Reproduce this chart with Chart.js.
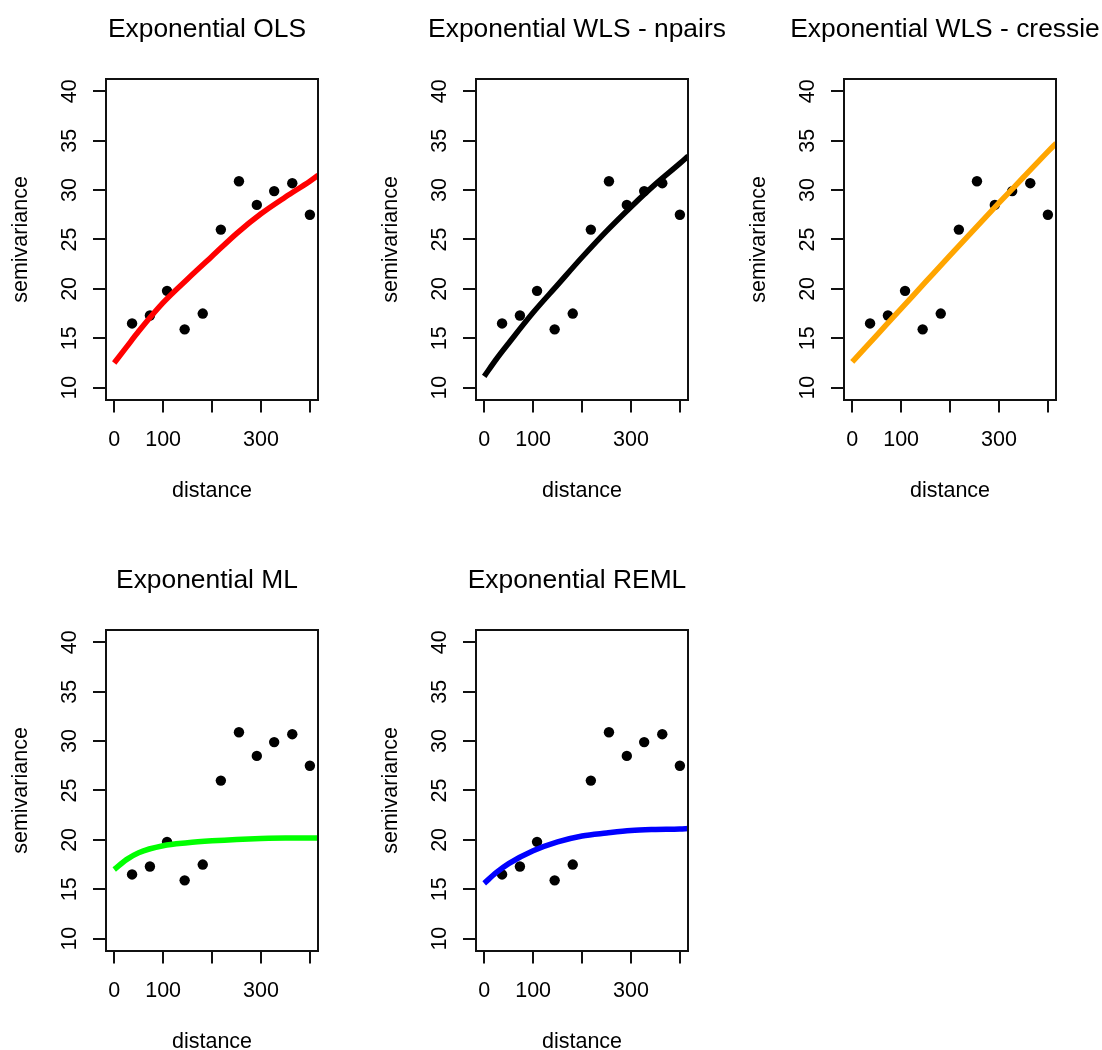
<!DOCTYPE html>
<html>
<head>
<meta charset="utf-8">
<script src="https://cdn.jsdelivr.net/npm/chart.js@4/dist/chart.umd.min.js"></script>
<style>
  html, body { margin: 0; padding: 0; background: #fff; }
  #wrap { position: relative; width: 1102px; height: 1050px; overflow: hidden; background: #fff; }
  canvas { position: absolute; }
</style>
</head>
<body>
<div id="wrap">
  <canvas id="c1" width="414" height="552" style="left:0px;top:0px;width:414px;height:552px"></canvas>
  <canvas id="c2" width="414" height="552" style="left:370px;top:0px;width:414px;height:552px"></canvas>
  <canvas id="c3" width="414" height="552" style="left:738px;top:0px;width:414px;height:552px"></canvas>
  <canvas id="c4" width="414" height="552" style="left:0px;top:551px;width:414px;height:552px"></canvas>
  <canvas id="c5" width="414" height="552" style="left:370px;top:551px;width:414px;height:552px"></canvas>
</div>
<script>
// ---- empirical variogram (same in every panel) ----
const distance     = [36.5, 73, 108, 144, 181, 218, 255, 291.5, 327, 364, 400];
const semivariance = [16.5, 17.3, 19.8, 15.9, 17.5, 26.0, 30.9, 28.5, 29.9, 30.7, 27.5];

// ---- fitted exponential models ----
const fitDistance = [0, 25, 50, 100, 150, 200, 250, 300, 350, 400, 417];
const fitOLS      = [12.5, 14.1, 15.7, 18.6, 21.0, 23.3, 25.6, 27.6, 29.3, 30.9, 31.5];
const fitNpairs   = [11.15, 12.9, 14.5, 17.6, 20.4, 23.2, 25.85, 28.3, 30.6, 32.7, 33.45];
const fitCressie  = [12.6, 13.95, 15.3, 18.0, 20.7, 23.4, 26.05, 28.7, 31.3, 33.9, 34.75];
const fitML       = [17.0, 18.0, 18.7, 19.4, 19.7, 19.9, 20.05, 20.15, 20.2, 20.2, 20.2];
const fitREML     = [15.6, 16.7, 17.6, 18.9, 19.8, 20.4, 20.7, 20.95, 21.05, 21.1, 21.15];

// ---- axes ----
const xTicks = [0, 100, 200, 300, 400];
const xTickLabels = ['0', '100', '', '300', ''];
const yTicks = [10, 15, 20, 25, 30, 35, 40];
const yTickLabels = ['10', '15', '20', '25', '30', '35', '40'];

const titles = ['Exponential OLS', 'Exponential WLS - npairs', 'Exponential WLS - cressie', 'Exponential ML', 'Exponential REML'];
const fits = [fitOLS, fitNpairs, fitCressie, fitML, fitREML];
const colors = ['#ff0000', '#000000', '#ffa500', '#00ff00', '#0000ff'];

const FONT = '"Liberation Sans", Arial, Helvetica, sans-serif';
const AXC = '#111';

const boxPlugin = {
  id: 'rbox',
  afterDatasetsDraw(chart) {
    const a = chart.chartArea, ctx = chart.ctx;
    ctx.save();
    ctx.strokeStyle = AXC;
    ctx.lineWidth = 2;
    ctx.strokeRect(Math.round(a.left), Math.round(a.top), Math.round(a.right) - Math.round(a.left), Math.round(a.bottom) - Math.round(a.top));
    ctx.restore();
  }
};

function makePanel(id, k) {
  const fitPts = fitDistance.map((d, i) => ({x: d, y: fits[k][i]}));
  const obsPts = distance.map((d, i) => ({x: d, y: semivariance[i]}));
  new Chart(document.getElementById(id), {
    type: 'scatter',
    data: {
      datasets: [
        { data: fitPts, showLine: true, borderColor: colors[k], borderWidth: 5.5, pointRadius: 0,
          cubicInterpolationMode: 'monotone', fill: false, order: 0 },
        { data: obsPts, showLine: false, pointRadius: 5.2, pointBackgroundColor: '#000',
          pointBorderWidth: 0, borderColor: '#000', order: 1 }
      ]
    },
    options: {
      responsive: false,
      animation: false,
      devicePixelRatio: 1,
      layout: { padding: 0 },
      events: [],
      plugins: {
        legend: { display: false },
        tooltip: { enabled: false },
        title: {
          display: true, text: titles[k], color: '#000',
          font: { family: FONT, size: 26.4, weight: 'normal' },
          padding: { top: 13.5, bottom: 34.3 }
        }
      },
      scales: {
        x: {
          type: 'linear', position: 'bottom', min: -16.8, max: 416.6,
          afterBuildTicks: s => { s.ticks = xTicks.map(v => ({value: v})); },
          afterFit: s => { s.height = 152.5; },
          grid: { display: true, drawOnChartArea: false, drawTicks: true, tickLength: 13, color: AXC, lineWidth: 2 },
          border: { display: true, color: AXC, width: 2 },
          ticks: { autoSkip: false, minRotation: 0, maxRotation: 0, padding: 14.6, color: '#000',
                   font: { family: FONT, size: 21.5 }, callback: (v, i) => xTickLabels[i] },
          title: { display: true, text: 'distance', color: '#000', font: { family: FONT, size: 21.5 },
                   padding: { top: 0, bottom: 48 } }
        },
        y: {
          type: 'linear', position: 'left', min: 8.8, max: 41.2,
          afterBuildTicks: s => { s.ticks = yTicks.map(v => ({value: v})); },
          afterFit: s => { s.width = 106; },
          grid: { display: true, drawOnChartArea: false, drawTicks: true, tickLength: 13, color: AXC, lineWidth: 2 },
          border: { display: true, color: AXC, width: 2 },
          ticks: { autoSkip: false, minRotation: 90, maxRotation: 90, crossAlign: 'center', padding: 11, color: '#000',
                   font: { family: FONT, size: 21.5 }, callback: (v, i) => yTickLabels[i] },
          title: { display: true, text: 'semivariance', color: '#000', font: { family: FONT, size: 21.5 },
                   padding: { top: 8, bottom: 0 } }
        },
        yR: {
          type: 'linear', position: 'right', display: true,
          afterFit: s => { s.width = 96; },
          grid: { display: false }, border: { display: false }, ticks: { display: false }
        }
      }
    },
    plugins: [boxPlugin]
  });
}

['c1', 'c2', 'c3', 'c4', 'c5'].forEach((id, k) => makePanel(id, k));
</script>
</body>
</html>
